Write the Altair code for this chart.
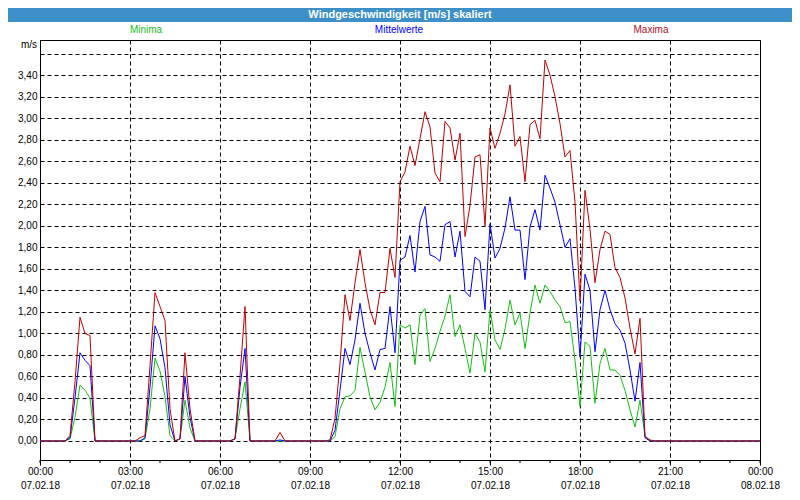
import altair as alt
import pandas as pd

# 10-minute samples over 07.02.18 (hours since midnight)
hours = [i / 6 for i in range(145)]

maxima = [
    0, 0, 0, 0, 0, 0, 0.05, 0.55, 1.15, 1.00, 0.98, 0,
    0, 0, 0, 0, 0, 0, 0, 0, 0.03, 0.05, 0.70, 1.38,
    1.25, 1.12, 0.30, 0, 0.02, 0.82, 0.30, 0, 0, 0, 0, 0,
    0, 0, 0, 0.02, 0.60, 1.25, 0, 0, 0, 0, 0, 0,
    0.08, 0, 0, 0, 0, 0, 0, 0, 0, 0, 0.01, 0.21,
    0.72, 1.36, 1.12, 1.47, 1.78, 1.47, 1.22, 1.08, 1.38, 1.38, 1.79, 1.52,
    2.41, 2.50, 2.74, 2.56, 2.81, 3.06, 2.92, 2.49, 2.41, 2.97, 2.91, 2.61,
    2.86, 1.90, 2.19, 2.64, 2.66, 2.00, 2.91, 2.72, 2.86, 3.04, 3.31, 2.74,
    2.83, 2.41, 2.94, 2.98, 2.81, 3.54, 3.40, 3.20, 2.95, 2.64, 2.70, 2.22,
    1.30, 2.33, 1.97, 1.47, 1.78, 1.95, 1.92, 1.61, 1.52, 1.33, 1.05, 0.81,
    1.14, 0.04, 0.01, 0, 0, 0, 0, 0, 0, 0, 0, 0,
    0, 0, 0, 0, 0, 0, 0, 0, 0, 0, 0, 0,
    0,
]

mittelwerte = [
    0, 0, 0, 0, 0, 0, 0.03, 0.40, 0.82, 0.75, 0.70, 0,
    0, 0, 0, 0, 0, 0, 0, 0, 0, 0.03, 0.50, 1.07,
    0.95, 0.68, 0.15, 0, 0.02, 0.60, 0.22, 0, 0, 0, 0, 0,
    0, 0, 0, 0.02, 0.50, 0.86, 0, 0, 0, 0, 0, 0,
    0.01, 0, 0, 0, 0, 0, 0, 0, 0, 0, 0, 0.10,
    0.47, 0.86, 0.71, 0.94, 1.28, 1.00, 0.82, 0.66, 0.85, 0.86, 1.25, 0.82,
    1.68, 1.71, 1.91, 1.57, 2.04, 2.18, 1.73, 1.71, 1.67, 2.01, 2.04, 1.71,
    1.95, 1.39, 1.34, 1.71, 1.67, 1.22, 2.02, 1.70, 1.79, 1.98, 2.27, 1.96,
    1.96, 1.50, 1.99, 2.15, 1.96, 2.47, 2.35, 2.22, 2.01, 1.80, 1.88, 1.42,
    0.78, 1.55, 1.40, 0.83, 1.22, 1.40, 1.22, 1.09, 1.03, 0.91, 0.66, 0.37,
    0.73, 0.03, 0, 0, 0, 0, 0, 0, 0, 0, 0, 0,
    0, 0, 0, 0, 0, 0, 0, 0, 0, 0, 0, 0,
    0,
]

minima = [
    0, 0, 0, 0, 0, 0, 0.02, 0.22, 0.52, 0.47, 0.40, 0,
    0, 0, 0, 0, 0, 0, 0, 0, 0, 0.02, 0.30, 0.77,
    0.65, 0.41, 0.05, 0, 0.02, 0.38, 0.12, 0, 0, 0, 0, 0,
    0, 0, 0, 0.02, 0.30, 0.55, 0, 0, 0, 0, 0, 0,
    0, 0, 0, 0, 0, 0, 0, 0, 0, 0, 0, 0.04,
    0.30, 0.41, 0.42, 0.47, 0.87, 0.64, 0.41, 0.29, 0.36, 0.50, 0.73, 0.32,
    1.08, 1.05, 1.08, 0.71, 1.17, 1.23, 0.74, 0.86, 1.02, 1.16, 1.36, 0.97,
    1.08, 0.86, 0.63, 1.00, 0.92, 0.64, 1.22, 0.94, 0.85, 1.04, 1.31, 1.08,
    1.19, 0.86, 1.19, 1.45, 1.28, 1.45, 1.39, 1.31, 1.25, 1.10, 1.11, 0.75,
    0.32, 0.92, 0.88, 0.35, 0.72, 0.86, 0.66, 0.66, 0.61, 0.47, 0.29, 0.13,
    0.38, 0.05, 0, 0, 0, 0, 0, 0, 0, 0, 0, 0,
    0, 0, 0, 0, 0, 0, 0, 0, 0, 0, 0, 0,
    0,
]

y_ticks = [0.0, 0.2, 0.4, 0.6, 0.8, 1.0, 1.2, 1.4, 1.6, 1.8, 2.0, 2.2, 2.4,
           2.6, 2.8, 3.0, 3.2, 3.4, 3.6]
x_tick_hours = [0, 3, 6, 9, 12, 15, 18, 21, 24]
x_tick_times = ["00:00", "03:00", "06:00", "09:00", "12:00", "15:00", "18:00", "21:00", "00:00"]
x_tick_dates = ["07.02.18", "07.02.18", "07.02.18", "07.02.18", "07.02.18",
                "07.02.18", "07.02.18", "07.02.18", "08.02.18"]
minor_tick_hours = list(range(25))

title_text = "Windgeschwindigkeit [m/s] skaliert"
legend_names = ["Minima", "Mittelwerte", "Maxima"]
unit_text = "m/s"

FONT = "Liberation Sans"
COL_MIN = "#14c014"
COL_MEAN = "#0000ff"
COL_MAX = "#c00000"

label_array = "[" + ",".join(
    f"['{t}','{d}']" for t, d in zip(x_tick_times, x_tick_dates)) + "]"

X = alt.X(
    "hour:Q",
    scale=alt.Scale(domain=[0, 24], nice=False, zero=False),
    axis=alt.Axis(
        values=x_tick_hours, title=None, domain=False,
        grid=True, gridDash=[4, 3], gridColor="black", gridOpacity=1, gridWidth=1,
        ticks=True, tickSize=5, tickColor="black", tickWidth=1,
        labelExpr=f"{label_array}[round(datum.value / 3)]",
        labelFont=FONT, labelFontSize=10, labelColor="black",
        labelLineHeight=14, labelBaseline="top", labelPadding=1,
        labelAlign="center", labelFlush=False, labelOverlap=False,
    ),
)
Y = alt.Y(
    "value:Q",
    scale=alt.Scale(domain=[-0.1766, 3.7268], nice=False, zero=False),
    axis=alt.Axis(
        values=y_ticks, title=None, domain=False,
        grid=True, gridDash=[4, 3], gridColor="black", gridOpacity=1, gridWidth=1,
        ticks=False,
        labelExpr="datum.value > 3.5 ? '' : replace(format(datum.value, '.2f'), '.', ',')",
        labelFont=FONT, labelFontSize=10, labelColor="black", labelPadding=3,
        labelOverlap=False,
    ),
)

def series(values):
    return pd.DataFrame({"hour": hours, "value": values})

line_min = alt.Chart(series(minima)).mark_line(color=COL_MIN, strokeWidth=1).encode(x=X, y=Y)
line_mean = alt.Chart(series(mittelwerte)).mark_line(color=COL_MEAN, strokeWidth=1).encode(x=X, y=Y)
line_max = alt.Chart(series(maxima)).mark_line(color=COL_MAX, strokeWidth=1).encode(x=X, y=Y)

minor_ticks = alt.Chart(pd.DataFrame({"hour": minor_tick_hours})).mark_rule(
    color="black", strokeWidth=1
).encode(x=X, y=alt.value(420), y2=alt.value(423))

one = pd.DataFrame({"k": [0]})

title_bar = alt.Chart(one).mark_rect(color="#3d8fc8").encode(
    x=alt.value(-32), x2=alt.value(752), y=alt.value(-32), y2=alt.value(-18)
)
title = alt.Chart(one).mark_text(
    text=title_text, font=FONT, fontSize=11, fontWeight="bold", color="white",
    align="center", baseline="middle"
).encode(x=alt.value(360), y=alt.value(-25))

leg_min = alt.Chart(one).mark_text(
    text=legend_names[0], font=FONT, fontSize=10, color="#20c020",
    align="center", baseline="middle").encode(x=alt.value(106), y=alt.value(-10))
leg_mean = alt.Chart(one).mark_text(
    text=legend_names[1], font=FONT, fontSize=10, color=COL_MEAN,
    align="center", baseline="middle").encode(x=alt.value(359), y=alt.value(-10))
leg_max = alt.Chart(one).mark_text(
    text=legend_names[2], font=FONT, fontSize=10, color="#b0102a",
    align="center", baseline="middle").encode(x=alt.value(611), y=alt.value(-10))
unit = alt.Chart(one).mark_text(
    text=unit_text, font=FONT, fontSize=10, color="black",
    align="right", baseline="middle").encode(x=alt.value(-3), y=alt.value(5))

chart = alt.layer(
    line_min, line_mean, line_max, minor_ticks,
    title_bar, title, leg_min, leg_mean, leg_max, unit,
).properties(
    width=720, height=420,
    autosize=alt.AutoSizeParams(type="none"),
    padding={"left": 32, "top": 32, "right": 32, "bottom": 32},
    background="white",
).configure_view(stroke="black", strokeWidth=1)

chart.save("out.html", embed_options={"renderer": "svg", "actions": False})
